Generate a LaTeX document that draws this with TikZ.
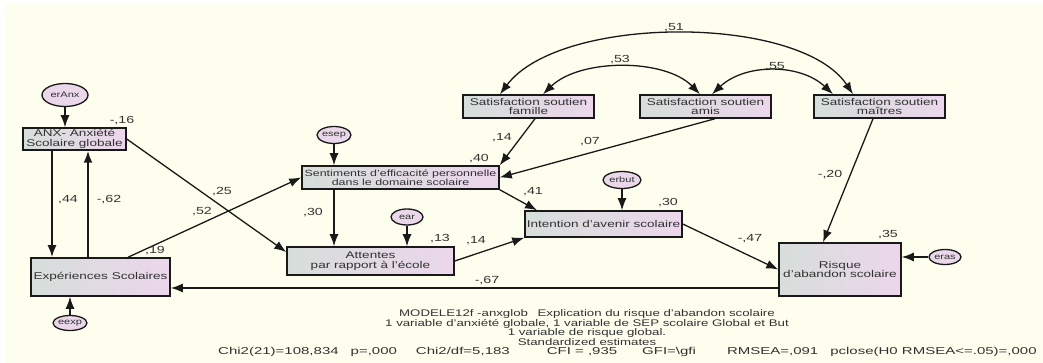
\documentclass[tikz,border=0pt]{standalone}
\usepackage{fontspec}
\setmainfont{Liberation Sans}[FakeStretch=1.38]
\newfontfamily\capwide{Liberation Sans}[FakeStretch=1.5]
\usetikzlibrary{arrows.meta,shapes.geometric,calc}
\definecolor{cream}{RGB}{254,254,238}
\definecolor{boxL}{RGB}{214,222,218}
\definecolor{boxR}{RGB}{236,214,236}
\definecolor{errF}{RGB}{234,216,234}
\definecolor{txt}{RGB}{50,50,50}
\definecolor{ln}{RGB}{25,25,25}
\newcommand{\boxfont}{\fontsize{9.8}{9.6}\selectfont}
\newcommand{\sepfont}{\fontsize{9.0}{9.2}\selectfont}
\newcommand{\errfont}{\fontsize{8}{8}\selectfont}
\newcommand{\labfont}{\fontsize{10.3}{10.3}\selectfont}
\newcommand{\capfont}{\fontsize{9.6}{9.6}\selectfont}
\newcommand{\capwidefont}{\capwide\fontsize{10}{10}\selectfont}
\tikzset{
  box/.style={draw=ln, line width=1.5pt, left color=boxL, right color=boxR, inner sep=0pt, align=center, font=\boxfont, text=txt},
  err/.style={ellipse, draw=ln, line width=1.3pt, fill=errF, inner sep=0pt, font=\errfont, text=txt},
  arr/.style={-{Latex[length=12pt,width=9pt]}, line width=1.3pt, draw=ln},
  arrtwo/.style={{Latex[length=12pt,width=9pt]}-{Latex[length=12pt,width=9pt]}, line width=1.3pt, draw=ln},
  lab/.style={font=\labfont, text=txt, inner sep=0pt},
  captext/.style={font=\capfont, text=txt, inner sep=0pt}
}
\begin{document}
\begin{tikzpicture}[x=1pt,y=-1pt]
\fill[white] (0,0) rectangle (1043,363);
\fill[cream] (5,4) rectangle (1043,363);
\useasboundingbox (0,0) rectangle (1043,363);

% nodes
\node[err, minimum width=46pt, minimum height=23pt] (erAnx) at (65,95) {erAnx};
\node[box, minimum width=103pt, minimum height=22pt] (anx) at (74.5,139) {ANX- Anxiété\\Scolaire globale};
\node[box, minimum width=139pt, minimum height=38pt] (exp) at (100.5,277) {Expériences Scolaires};
\node[err, minimum width=31pt, minimum height=15pt] (eexp) at (70,323) {eexp};
\node[box, minimum width=131pt, minimum height=23pt] (fam) at (528.5,106.5) {Satisfaction soutien\\famille};
\node[box, minimum width=131pt, minimum height=23pt] (amis) at (705.5,106.5) {Satisfaction soutien\\amis};
\node[box, minimum width=131pt, minimum height=23pt] (mait) at (879.5,106.5) {Satisfaction soutien\\maîtres};
\node[err, minimum width=33pt, minimum height=17pt] (esep) at (334,135) {esep};
\node[box, font=\sepfont, minimum width=197pt, minimum height=23pt] (sep) at (400.5,177.5) {Sentiments d'efficacité personnelle\\dans le domaine scolaire};
\node[err, minimum width=32pt, minimum height=16pt] (ear) at (407,217) {ear};
\node[box, minimum width=167pt, minimum height=28pt] (att) at (370.5,261) {Attentes\\par rapport à l'école};
\node[err, minimum width=38pt, minimum height=17pt] (erbut) at (622,180) {erbut};
\node[box, minimum width=157pt, minimum height=26pt] (int) at (603.5,224) {Intention d'avenir scolaire};
\node[box, minimum width=122pt, minimum height=53pt] (ris) at (840,269.5) {Risque\\d'abandon scolaire};
\node[err, minimum width=32pt, minimum height=15pt] (eras) at (945,257) {eras};

% connectors
\draw[arr] (erAnx) -- (erAnx |- anx.north);
\draw[arr, line width=2pt] ([xshift=-22.5pt]anx.south) -- ([xshift=-22.5pt]anx.south |- exp.north);
\draw[arr, line width=2pt] ([xshift=13.5pt]anx.south |- exp.north) -- ([xshift=13.5pt]anx.south);
\draw[arr] (eexp) -- (eexp |- exp.south);
\draw[arr] (anx.east) -- ([yshift=9pt]att.west);
\draw[arr] ([xshift=27.5pt]exp.north) -- (sep.west);
\draw[arr] (esep) -- (esep |- sep.north);
\draw[arr] ([xshift=-66.5pt]sep.south) -- ([xshift=-66.5pt]sep.south |- att.north);
\draw[arr] (ear) -- (ear |- att.north);
\draw[arr] (att.east) -- (int.south west);
\draw[arr] (sep.south east) -- ([xshift=-66.5pt]int.north);
\draw[arr] (erbut) -- (erbut |- int.north);
\draw[arr] ([xshift=6.5pt]fam.south) -- (sep.north east);
\draw[arr] ([xshift=9.5pt]amis.south) -- (sep.east);
\draw[arr] ([xshift=-6.5pt]mait.south) -- ([xshift=-17pt]ris.north);
\draw[arr] (int.east) -- (ris.west);
\draw[arr] (eras) -- (eras -| ris.east);
\draw[arr, line width=1.6pt] ([yshift=-18.5pt]ris.west) -- ([yshift=-18.5pt]ris.west -| exp.east);

% covariances
\draw[arrtwo] ([xshift=-28.5pt]fam.north) .. controls +(60,-80) and +(-53,-80) .. ([xshift=-26.5pt]mait.north);
\draw[arrtwo] ([xshift=14.5pt]fam.north) .. controls +(37,-36) and +(-35,-36) .. ([xshift=-5.5pt]amis.north);
\draw[arrtwo] ([xshift=6.5pt]amis.north) .. controls +(33,-31) and +(-33,-31) .. ([xshift=-46.5pt]mait.north);

% coefficient labels
\node[lab] (l16) at (122,121) {-,16};
\node[lab] (l44) at (68,200) {,44};
\node[lab] (l62) at (109,200) {-,62};
\node[lab] (l25) at (222,192) {,25};
\node[lab] (l52) at (202,212) {,52};
\node[lab] (l19) at (155,251) {,19};
\node[lab] (l14a) at (502,138) {,14};
\node[lab] (l07) at (590,142) {,07};
\node[lab] (l40) at (479,159) {,40};
\node[lab] (l41) at (533,192) {,41};
\node[lab] (l30a) at (313,213) {,30};
\node[lab] (l13) at (440,239) {,13};
\node[lab] (l14b) at (476,241) {,14};
\node[lab] (l30b) at (668,203) {,30};
\node[lab] (l20) at (830,175) {-,20};
\node[lab] (l47) at (750,239) {-,47};
\node[lab] (l35) at (888,235) {,35};
\node[lab] (l67) at (487,281) {-,67};
\node[lab] (l51) at (674,28) {,51};
\node[lab] (l53) at (620,60) {,53};
\node[lab] (l55) at (775,67) {,55};

% caption
\node[captext] (c1) at (587,314) {MODELE12f -anxglob\hspace{1em}Explication du risque d'abandon scolaire};
\node[captext] (c2) at (587,323.5) {1 variable d'anxiété globale, 1 variable de SEP scolaire Global et But};
\node[captext] (c3) at (587,333) {1 variable de risque global.};
\node[captext] (c4) at (587,342.5) {Standardized estimates};
\node[captext, font=\capwidefont, anchor=west] (c5) at (218,352) {Chi2(21)=108,834\hspace{12pt}p=,000\hspace{19pt}Chi2/df=5,183\hspace{37pt}CFI = ,935\hspace{25pt}GFI=\textbackslash gfi\hspace{31pt}RMSEA=,091\hspace{12pt}pclose(H0 RMSEA<=.05)=,000};
\end{tikzpicture}
\end{document}
